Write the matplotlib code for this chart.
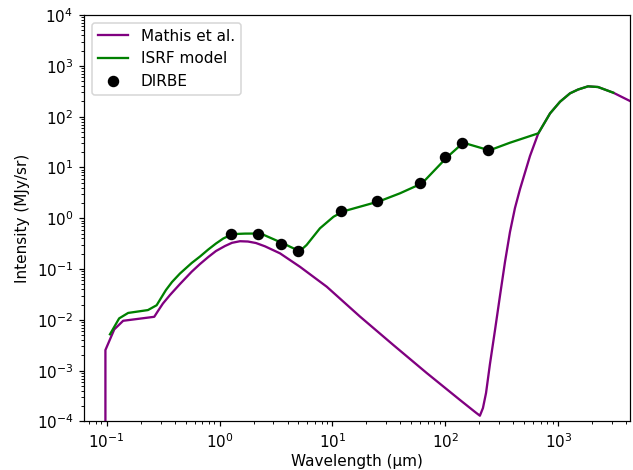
import numpy as np
from matplotlib import pyplot as plt

# Mathis et al. ISRF (wavelength in um, intensity in MJy/sr)
mathis_wl = [0.0975, 0.0975, 0.1168, 0.140, 0.264, 0.285, 0.315, 0.364, 0.446,
             0.566, 0.671, 0.794, 0.929, 1.116, 1.288, 1.516, 1.784, 2.101, 2.524,
             3.43, 5.15, 8.89, 17.5, 34.6, 68.3, 134.7, 183, 202, 215, 229, 248,
             275, 305, 337, 373, 413, 458, 561, 665, 845, 1036, 1270, 1496, 1832,
             2248, 3070, 4315, 6000]
mathis_i = [1e-6, 2.55e-3, 6.5e-3, 9.6e-3, 0.0115, 0.0150, 0.0210, 0.0309, 0.0508,
            0.0887, 0.1258, 0.1727, 0.2266, 0.2843, 0.3287, 0.3534, 0.3485, 0.3257, 0.2805,
            0.204, 0.111, 0.0450, 0.01165, 3.2e-3, 9.0e-4, 2.65e-4, 1.54e-4, 1.30e-4, 1.84e-4,
            3.64e-4, 1.35e-3, 6.32e-3, 0.0309, 0.138, 0.536, 1.59, 3.76, 16.8, 47.0, 116,
            197, 288, 342, 395, 383, 296, 203, 135]

# ISRF model
model_wl = [0.107, 0.129, 0.155, 0.232, 0.277, 0.303, 0.335, 0.379, 0.446, 0.566,
            0.671, 0.794, 0.929, 1.078, 1.236, 1.369, 1.679, 2.31, 3.70, 5.12, 5.90,
            7.74, 10.2, 12.5, 26.0, 39.6, 62.1, 103, 144, 245, 373, 665, 845, 1036,
            1270, 1496, 1832, 2248, 3070]
model_i = [5.2e-3, 0.0107, 0.0137, 0.0156, 0.0194, 0.0269, 0.0387, 0.0556, 0.0818, 0.1316,
           0.1767, 0.2427, 0.3185, 0.3995, 0.4618, 0.490, 0.499, 0.501, 0.316, 0.224, 0.298,
           0.634, 1.07, 1.37, 2.16, 3.10, 4.87, 15.8, 30.7, 21.7, 30.7, 47.0, 116, 197,
           288, 342, 395, 383, 296]

# DIRBE
dirbe_wl = [1.25, 2.2, 3.5, 4.9, 12, 25, 60, 100, 140, 240]
dirbe_i = [0.483, 0.497, 0.316, 0.224, 1.37, 2.16, 4.87, 15.8, 30.7, 21.7]


def main():
    fig, ax = plt.subplots(figsize=(633 / 110, 470 / 110), dpi=110)
    fig.subplots_adjust(left=0.1327, right=0.9953, top=0.968, bottom=0.1032)
    ax.plot(mathis_wl, mathis_i, color='purple', label='Mathis et al.')
    ax.plot(model_wl, model_i, color='green', label='ISRF model')
    ax.plot(dirbe_wl, dirbe_i, 'ko', ms=6.5, label='DIRBE')
    ax.set_xscale('log')
    ax.set_yscale('log')
    ax.set_xlim(0.063, 4315)
    ax.set_ylim(1e-4, 1e4)
    ax.set_xlabel('Wavelength (\u00b5m)', labelpad=2)
    ax.set_ylabel('Intensity (MJy/sr)')
    ax.legend(loc='upper left')
    fig.savefig('out.png', dpi=110)


if __name__ == "__main__":
    main()
